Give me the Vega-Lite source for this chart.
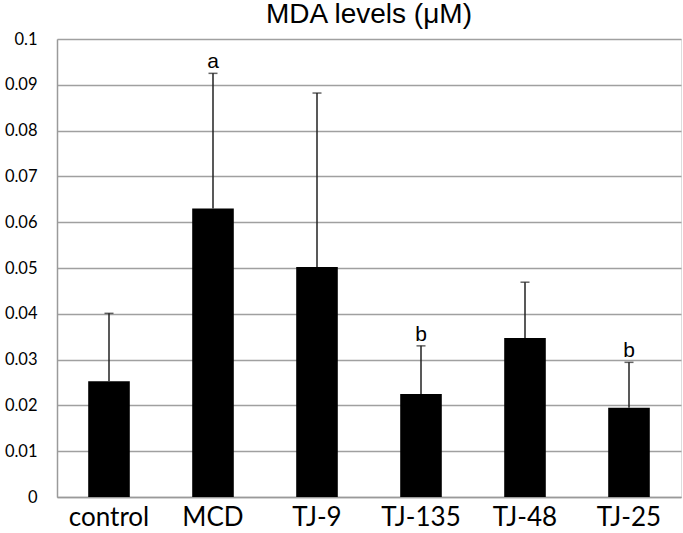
{
  "$schema": "https://vega.github.io/schema/vega-lite/v6.json",
  "autosize": "none",
  "width": 624,
  "height": 458,
  "padding": {"left": 57, "top": 39, "right": 2, "bottom": 36},
  "background": "white",
  "title": {"text": "MDA levels (μM)", "font": "Liberation Sans", "fontSize": 28, "fontWeight": "normal", "color": "black", "anchor": "middle", "offset": 2, "lineHeight": 28},
  "data": {"values": [
    {"group": "control", "mean": 0.0253, "upper": 0.0401, "sig": ""},
    {"group": "MCD", "mean": 0.0630, "upper": 0.0925, "sig": "a"},
    {"group": "TJ-9", "mean": 0.0502, "upper": 0.0882, "sig": ""},
    {"group": "TJ-135", "mean": 0.0225, "upper": 0.0330, "sig": "b"},
    {"group": "TJ-48", "mean": 0.0347, "upper": 0.0469, "sig": ""},
    {"group": "TJ-25", "mean": 0.0195, "upper": 0.0294, "sig": "b"}
  ]},
  "encoding": {
    "x": {"field": "group", "type": "nominal", "sort": null,
      "scale": {"paddingInner": 0.6, "paddingOuter": 0.3},
      "axis": {"title": null, "labelAngle": 0, "labelFont": "Lato", "labelFontSize": 26, "labelColor": "black", "labelPadding": 7, "ticks": false, "domainColor": "#9a9a9a", "domainWidth": 1.5}}
  },
  "layer": [
    {
      "mark": {"type": "bar", "color": "black"},
      "encoding": {
        "y": {"field": "mean", "type": "quantitative",
          "scale": {"domain": [0, 0.1], "nice": false},
          "axis": {"title": null, "values": [0, 0.01, 0.02, 0.03, 0.04, 0.05, 0.06, 0.07, 0.08, 0.09, 0.1], "labelExpr": "datum.value == 0 ? '0' : format(datum.value, '.2~f')", "labelFont": "Lato", "labelFontSize": 16.5, "labelColor": "black", "labelPadding": 20, "ticks": false, "domainColor": "#9a9a9a", "domainWidth": 1.5, "grid": true, "gridColor": "#a0a0a0", "gridWidth": 1.3}}
      }
    },
    {
      "mark": {"type": "rule", "color": "#222222", "strokeWidth": 1.5},
      "encoding": {
        "y": {"field": "mean", "type": "quantitative"},
        "y2": {"field": "upper"}
      }
    },
    {
      "mark": {"type": "tick", "color": "#222222", "thickness": 1.5, "size": 9, "orient": "horizontal"},
      "encoding": {
        "y": {"field": "upper", "type": "quantitative"}
      }
    },
    {
      "mark": {"type": "text", "font": "Liberation Sans", "fontSize": 21, "baseline": "bottom", "dy": -1, "color": "black"},
      "encoding": {
        "y": {"field": "upper", "type": "quantitative"},
        "text": {"field": "sig"}
      }
    }
  ]
}
